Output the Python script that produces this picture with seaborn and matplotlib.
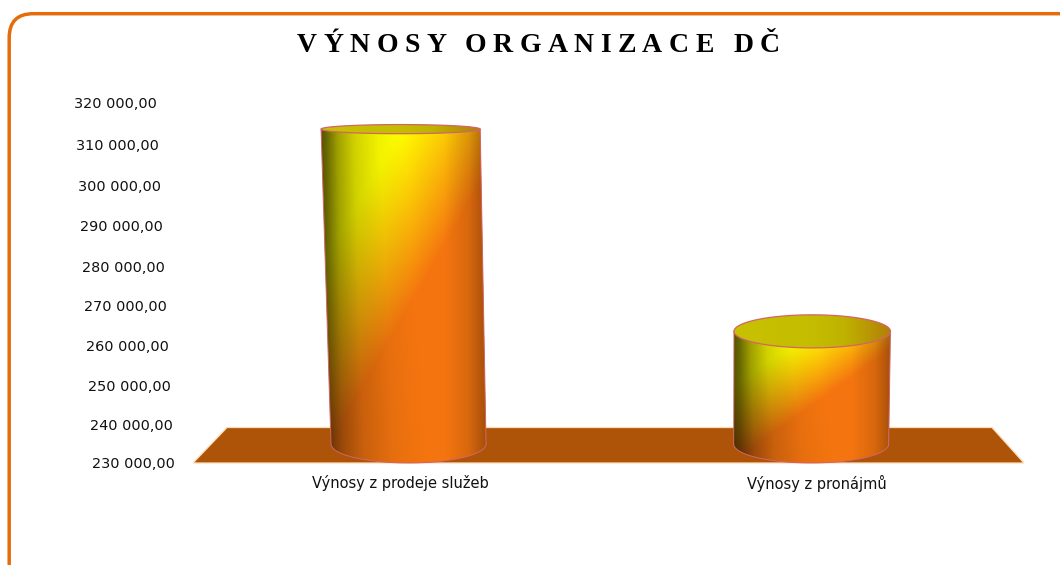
import numpy as np
import pandas as pd
import matplotlib
matplotlib.use("Agg")
import matplotlib.pyplot as plt
from matplotlib.patches import FancyBboxPatch, PathPatch, Polygon
from matplotlib.path import Path
from matplotlib.text import Text
from matplotlib.transforms import ScaledTranslation, Affine2D, IdentityTransform
import seaborn as sns

categories = ["Výnosy z prodeje služeb", "Výnosy z pronájmů"]
values = [313700, 263000]
tick_values = [230000, 240000, 250000, 260000, 270000, 280000, 290000, 300000, 310000, 320000]
tick_labels = ["230 000,00", "240 000,00", "250 000,00", "260 000,00", "270 000,00",
               "280 000,00", "290 000,00", "300 000,00", "310 000,00", "320 000,00"]
title = "VÝNOSY ORGANIZACE DČ"

W, H = 1060, 565
sns.set_theme(style="white")
plt.rcParams["font.family"] = ["DejaVu Sans"]
fig = plt.figure(figsize=(W / 100, H / 100), dpi=100, facecolor="white")

# pixel layout of the plot rectangle
L, R, T, B = 208, 1012, 104, 463
ax = fig.add_axes([L / W, 1 - B / H, (R - L) / W, (B - T) / H])
ax.patch.set_alpha(0)
df = pd.DataFrame({"kategorie": categories, "vynosy": values})
sns.barplot(data=df, x="kategorie", y="vynosy", width=0.385, color="#ef7510",
            saturation=1, ax=ax, zorder=3)
ax.set_xlim(-0.5, 1.5)
ax.set_ylim(tick_values[0], tick_values[-1])
ax.set_xlabel("")
ax.set_ylabel("")
sns.despine(ax=ax, left=True, bottom=True)
ax.grid(False)

pxy = (tick_values[-1] - tick_values[0]) / (B - T)   # value units per pixel
pxx = 2 / (R - L)                                    # category units per pixel
base = tick_values[0]
VP_X = (704 - L) * pxx - 0.5
K = 8.5e-5 / pxy
EDGE = "#d2646a"
RIM_H = lambda v: np.interp((B - (v - base) / pxy), [128, 330, 444], [4.5, 16.5, 19]) * pxy


def persp(x, v):
    return x + (x - VP_X) * K * (v - base)


# floor (pixel-placed back plane of the 3D chart)
to_px = Affine2D().scale(1, -1).translate(0, H)
floor = Polygon([(193, 463), (1024, 463), (992, 427.5), (227, 427.5)], closed=True,
                facecolor="#ae5408", edgecolor="#ffdcb8", linewidth=0.9,
                transform=to_px, clip_on=False, zorder=1)
ax.add_patch(floor)


def body_rgb(n=220):
    v_, u_ = np.mgrid[0:1:n * 1j, 0:1:n * 1j]
    t = v_ + 0.85 * (u_ - 0.5)
    m = np.clip((t + 0.02) / 0.58, 0, 1) ** 1.1
    yellow = np.array([1.0, 1.0, 0.0])
    orange = np.array([0.96, 0.46, 0.06])
    col = yellow[None, None, :] * (1 - m[..., None]) + orange[None, None, :] * m[..., None]
    u2 = u_ / (1 + 0.3 * v_)
    left = np.interp(u2, [0, 0.03, 0.1, 0.2, 0.35, 0.5], [0.33, 0.4, 0.63, 0.82, 0.95, 1])
    right = np.interp(u_, [0.5, 0.75, 0.9, 1], [1, 1, 0.88, 0.68])
    return np.clip(col * (left * right)[..., None], 0, 1)


def top_rgb(n=160):
    stops = np.array([[0.78, 0.76, 0.0], [0.77, 0.74, 0.0], [0.75, 0.70, 0.0], [0.70, 0.50, 0.03]])
    xs = np.linspace(0, 1, n)
    row = np.stack([np.interp(xs, [0, 0.5, 0.7, 1], stops[:, i]) for i in range(3)], axis=1)
    return row[None, :, :]


for bar, value in zip(ax.patches, values):
    cx = bar.get_x() + bar.get_width() / 2
    hw = bar.get_width() / 2
    base_h = RIM_H(base + 19 * pxy)
    yb = base + base_h
    bl, br = persp(cx - hw, yb), persp(cx + hw, yb)
    tl, tr = persp(cx - hw, value), persp(cx + hw, value)
    th = np.linspace(np.pi, 2 * np.pi, 50)
    arc_x = (bl + br) / 2 + (br - bl) / 2 * np.cos(th)
    arc_y = yb + base_h * np.sin(th)
    verts = [(tl, value), (tr, value), (br, yb)] + list(zip(arc_x[::-1], arc_y[::-1])) + [(tl, value)]
    codes = [Path.MOVETO] + [Path.LINETO] * (len(verts) - 2) + [Path.CLOSEPOLY]
    cyl = PathPatch(Path(verts, codes), facecolor="none", edgecolor=EDGE, linewidth=0.7,
                    zorder=5, clip_on=False)
    ax.add_patch(cyl)
    bar.set_clip_path(cyl.get_path(), ax.transData)
    img = ax.imshow(body_rgb(), extent=(min(tl, bl), max(tr, br), base, value),
                    aspect="auto", interpolation="bilinear", zorder=4)
    img.set_clip_path(cyl.get_path(), ax.transData)

    rh = RIM_H(value)
    t2 = np.linspace(0, 2 * np.pi, 120)
    ex = (tl + tr) / 2 + (tr - tl) / 2 * np.cos(t2)
    ey = value + rh * np.sin(t2)
    rim = Polygon(np.column_stack([ex, ey]), closed=True, facecolor="none",
                  edgecolor=EDGE, linewidth=0.9, zorder=7, clip_on=False)
    ax.add_patch(rim)
    im2 = ax.imshow(top_rgb(), extent=(tl, tr, value - rh, value + rh), aspect="auto",
                    interpolation="bilinear", zorder=6)
    im2.set_clip_path(rim.get_path(), ax.transData)

ax.set_xlim(-0.5, 1.5)
ax.set_ylim(tick_values[0], tick_values[-1])

# y axis labels follow the slanted side of the 3D wall
label_dy_px = [-1, 1, 2, 2, 2, 2.5, 2, 2, 1, -1]
ax.set_yticks(tick_values)
ax.set_yticklabels(tick_labels, fontsize=10.4, color="#111111")
for tick, v, dy in zip(ax.yaxis.get_major_ticks(), tick_values, label_dy_px):
    tick.tick1line.set_visible(False)
    tick.set_pad((24.5 + 18 * (v - base) / 90000) * 0.72)
    lab = tick.label1
    lab.set_transform(lab.get_transform() + ScaledTranslation(0, -dy / 100, fig.dpi_scale_trans))

ax.tick_params(axis="x", length=0, pad=8.6)
ax.set_xticks([0, 1])
ax.set_xticklabels(categories, fontsize=10.5, color="#111111")
for lab, dx in zip(ax.get_xticklabels(), [-8.5, 6]):
    lab.set_transform(lab.get_transform() + ScaledTranslation(dx / 100, 0, fig.dpi_scale_trans))

# chart frame, running off the right and bottom edges like the source
frame = FancyBboxPatch((9.2, 13.7), W + 60, H + 60,
                       boxstyle="round,pad=0,rounding_size=24",
                       facecolor="none", edgecolor="#e46c0a", linewidth=2.5,
                       transform=to_px, clip_on=True, figure=fig)
fig.add_artist(frame)


class SpacedText(Text):
    """One text object whose letters are spread to a target pixel width."""

    def __init__(self, *args, target_width=0, **kwargs):
        super().__init__(*args, **kwargs)
        self._target_width = target_width

    def draw(self, renderer):
        s = self.get_text()
        fp = self.get_fontproperties()
        w = lambda q: renderer.get_text_width_height_descent(q, fp, False)[0]
        sp = (self._target_width - w(s)) / (len(s) - 1)
        x0, y0 = self.get_transform().transform(self.get_position())
        x0 -= self._target_width / 2
        for i, ch in enumerate(s):
            if ch == " ":
                continue
            pos = w(s[:i] + ch) - w(ch)
            g = Text(x0 + pos + i * sp, y0, ch, fontproperties=fp, color=self.get_color(),
                     va="baseline", ha="left", transform=IdentityTransform())
            g.set_figure(self.get_figure())
            g.draw(renderer)


fig.add_artist(SpacedText(538.5 / W, 1 - 52 / H, title, target_width=483, ha="center",
                          va="baseline", family="Liberation Serif", fontweight="bold",
                          fontsize=20, color="black", transform=fig.transFigure))

fig.savefig("out.png", dpi=100, facecolor="white")
